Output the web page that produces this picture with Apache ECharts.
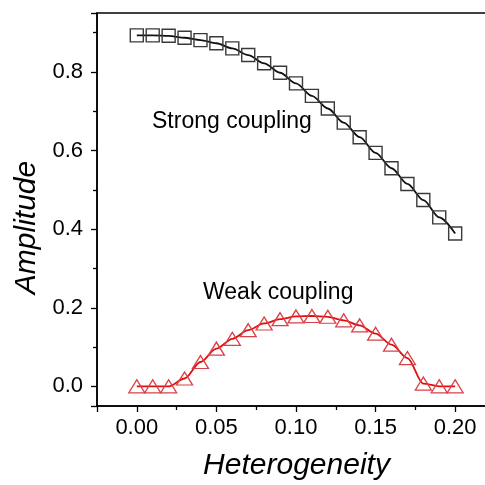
<!DOCTYPE html>
<html>
<head>
<meta charset="utf-8">
<script src="https://cdn.jsdelivr.net/npm/echarts@6/dist/echarts.min.js"></script>
<style>html,body{margin:0;padding:0;background:#fff}#c{width:485px;height:485px}</style>
</head>
<body>
<div id="c"></div>
<script>
const heterogeneity = [0.00,0.01,0.02,0.03,0.04,0.05,0.06,0.07,0.08,0.09,0.10,0.11,0.12,0.13,0.14,0.15,0.16,0.17,0.18,0.19,0.20];
const strongCoupling = [0.893,0.893,0.892,0.887,0.881,0.873,0.860,0.843,0.822,0.798,0.771,0.739,0.707,0.671,0.634,0.594,0.555,0.515,0.474,0.430,0.389];
const weakCoupling = [0.000,0.000,0.000,0.020,0.062,0.096,0.121,0.143,0.160,0.171,0.178,0.179,0.177,0.168,0.155,0.134,0.106,0.072,0.007,0.000,0.000];
const xTickLabels = ['0.00','0.05','0.10','0.15','0.20'];
const yTickLabels = ['0.0','0.2','0.4','0.6','0.8'];
const annotations = ['Strong coupling','Weak coupling'];

const font = 'Liberation Sans, Arial, sans-serif';
function pairs(xs, ys){ return xs.map((x,i)=>[x, ys[i]]); }
function fmt(list, digits){
  return function(v){
    const s = v.toFixed(digits);
    return list.indexOf(s) >= 0 && Math.abs(v - parseFloat(s)) < 1e-9 ? s : '';
  };
}

const chart = echarts.init(document.getElementById('c'), null, {renderer:'canvas'});
chart.setOption({
  animation:false,
  backgroundColor:'#fff',
  grid:{left:97, top:13, width:390, height:393, containLabel:false, outerBoundsMode:'none',
        show:true, borderColor:'#000', borderWidth:1.5, backgroundColor:'transparent'},
  xAxis:{
    type:'value', min:-0.025, max:0.22, splitNumber:5,
    name:'Heterogeneity', nameLocation:'middle', nameGap:45,
    nameTextStyle:{fontFamily:font, fontSize:30, fontStyle:'italic', color:'#000', padding:[0,0,0,9]},
    axisLine:{show:true, onZero:false, lineStyle:{color:'#000', width:1.5}},
    axisTick:{show:true, inside:false, length:6, lineStyle:{color:'#000', width:1.3}},
    minorTick:{show:true, splitNumber:2, length:4, lineStyle:{color:'#000', width:1.3}},
    axisLabel:{fontFamily:font, fontSize:22, color:'#000', margin:11, formatter:fmt(xTickLabels,2)},
    splitLine:{show:false}, minorSplitLine:{show:false}
  },
  yAxis:{
    type:'value', min:-0.05, max:0.95, splitNumber:5,
    name:'Amplitude', nameLocation:'middle', nameGap:55,
    nameTextStyle:{fontFamily:font, fontSize:30, fontStyle:'italic', color:'#000', padding:[0,36,0,0]},
    axisLine:{show:true, onZero:false, lineStyle:{color:'#000', width:1.5}},
    axisTick:{show:true, inside:false, length:6, lineStyle:{color:'#000', width:1.3}},
    minorTick:{show:true, splitNumber:2, length:4, lineStyle:{color:'#000', width:1.3}},
    axisLabel:{fontFamily:font, fontSize:22, color:'#000', margin:14, formatter:fmt(yTickLabels,1)},
    splitLine:{show:false}, minorSplitLine:{show:false}
  },
  series:[
    {type:'line', data:pairs(heterogeneity, strongCoupling), smooth:0.3, smoothMonotone:'x',
     symbol:'rect', symbolSize:[13,13], showAllSymbol:true,
     lineStyle:{color:'#111', width:1.8},
     itemStyle:{color:'rgba(255,255,255,0)', borderColor:'#3a3a3a', borderWidth:1.4}, z:3},
    {type:'line', data:pairs(heterogeneity, weakCoupling), smooth:0.3, smoothMonotone:'x',
     symbol:'triangle', symbolSize:[16,13], showAllSymbol:true,
     lineStyle:{color:'#e01010', width:1.8},
     itemStyle:{color:'rgba(255,255,255,0)', borderColor:'#d8424a', borderWidth:1.3}, z:3}
  ],
  graphic:[
    {type:'text', left:152, top:110, style:{text:annotations[0], font:'23px '+font, fill:'#000'}},
    {type:'text', left:203, top:281, style:{text:annotations[1], font:'23px '+font, fill:'#000'}}
  ]
});
</script>
</body>
</html>
